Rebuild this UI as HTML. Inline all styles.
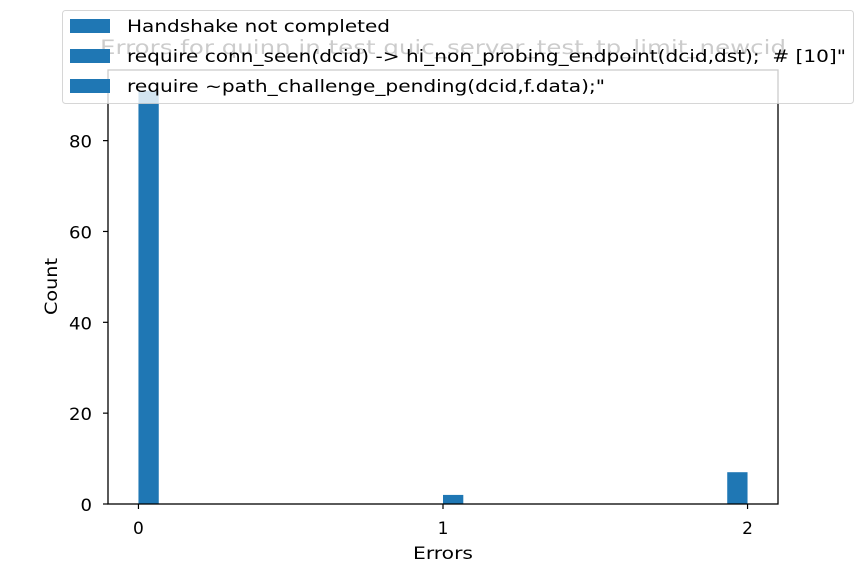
<!DOCTYPE html>
<html><head><meta charset="utf-8">
<style>
html,body{margin:0;padding:0;background:#fff;}
svg{display:block;font-family:"DejaVu Sans","Liberation Sans",sans-serif;}
</style></head>
<body>
<svg id="chart" width="864" height="576" viewBox="0 0 864 576">
<text x="100" y="54" font-size="19.5" fill="#000" textLength="686" lengthAdjust="spacingAndGlyphs">Errors for quinn in test quic_server_test_tp_limit_newcid</text>
<g id="plot"></g>
<rect x="108" y="70" width="670" height="434" fill="none" stroke="#000" stroke-width="1.3"/>
<text x="413" y="559" font-size="17" textLength="60" lengthAdjust="spacingAndGlyphs">Errors</text>
<text transform="translate(57,315) rotate(-90)" font-size="17" textLength="57" lengthAdjust="spacingAndGlyphs">Count</text>
<g>
<rect x="62.5" y="10.5" width="791" height="93" rx="3" fill="#fff" fill-opacity="0.8" stroke="#ccc" stroke-opacity="0.8"/>
<rect x="70" y="19" width="40" height="14" fill="#1f77b4"/>
<text x="127" y="32" font-size="17" textLength="263" lengthAdjust="spacingAndGlyphs">Handshake not completed</text>
<rect x="70" y="49" width="40" height="14" fill="#1f77b4"/>
<text x="127" y="62" font-size="17" xml:space="preserve" textLength="719" lengthAdjust="spacingAndGlyphs">require conn_seen(dcid) -&gt; hi_non_probing_endpoint(dcid,dst);  # [10]"</text>
<rect x="70" y="79" width="40" height="14" fill="#1f77b4"/>
<text x="127" y="92" font-size="17" textLength="478" lengthAdjust="spacingAndGlyphs">require ~path_challenge_pending(dcid,f.data);"</text>
</g>
</svg>
<script>
const binStarts = [0, 1, 1.9333];
const counts = [91, 2, 7];
const binWidth = 2 / 30;
const xTicks = [0, 1, 2];
const yTicks = [0, 20, 40, 60, 80];

const NS = "http://www.w3.org/2000/svg";
const plot = document.getElementById("plot");
const X0 = 108, X1 = 778, Y0 = 504, Y1 = 70;
const xMin = -0.1, xMax = 2.1;
const yMax = Math.max(...counts) * 1.05;
function xs(v){ return X0 + (v - xMin) / (xMax - xMin) * (X1 - X0); }
function ys(v){ return Y0 - v / yMax * (Y0 - Y1); }

for (let i = 0; i < counts.length; i++) {
  const r = document.createElementNS(NS, "rect");
  const x = xs(binStarts[i]), w = xs(binStarts[i] + binWidth) - x;
  r.setAttribute("x", x); r.setAttribute("y", ys(counts[i]));
  r.setAttribute("width", w); r.setAttribute("height", Y0 - ys(counts[i]));
  r.setAttribute("fill", "#1f77b4");
  
  
  plot.appendChild(r);
}
for (const t of xTicks) {
  const l = document.createElementNS(NS, "line");
  l.setAttribute("x1", xs(t)); l.setAttribute("x2", xs(t));
  l.setAttribute("y1", Y0); l.setAttribute("y2", Y0 + 5);
  l.setAttribute("stroke", "#000"); l.setAttribute("stroke-width", "1.2");
  
  
  plot.appendChild(l);
  const tx = document.createElementNS(NS, "text");
  tx.setAttribute("x", xs(t)); tx.setAttribute("y", 534);
  tx.setAttribute("text-anchor", "middle"); tx.setAttribute("font-size", "17");
  tx.textContent = t;
  
  
  plot.appendChild(tx);
}
for (const t of yTicks) {
  const l = document.createElementNS(NS, "line");
  l.setAttribute("x1", X0 - 5); l.setAttribute("x2", X0);
  l.setAttribute("y1", ys(t)); l.setAttribute("y2", ys(t));
  l.setAttribute("stroke", "#000"); l.setAttribute("stroke-width", "1.2");
  
  
  plot.appendChild(l);
  const tx = document.createElementNS(NS, "text");
  tx.setAttribute("x", X0 - 16); tx.setAttribute("y", ys(t) + 7);
  tx.setAttribute("text-anchor", "end"); tx.setAttribute("font-size", "17");
  tx.setAttribute("textLength", String(t).length * 11.5);
  tx.setAttribute("lengthAdjust", "spacingAndGlyphs");
  tx.textContent = t;
  
  
  plot.appendChild(tx);
}
</script>
</body></html>
